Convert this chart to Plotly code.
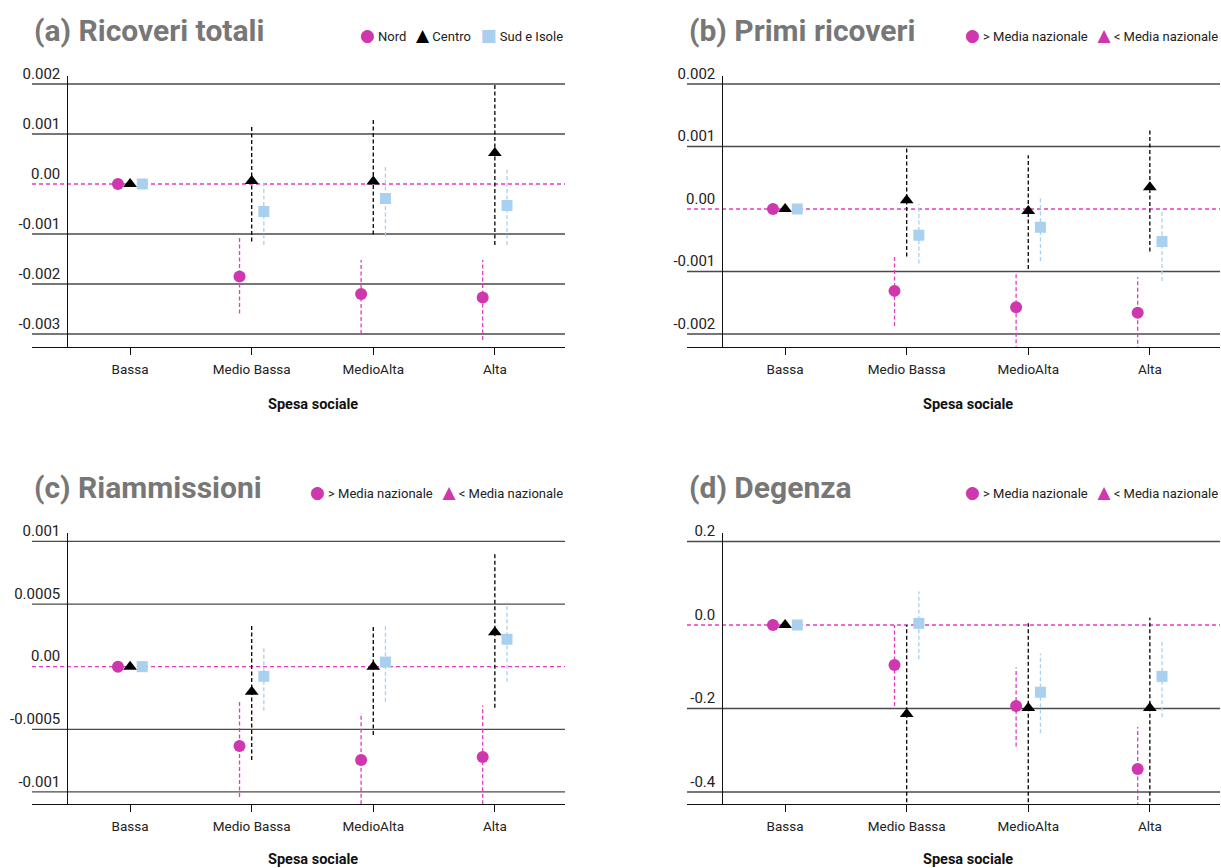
import plotly.graph_objects as go

categories = ["Bassa", "Medio Bassa", "MedioAlta", "Alta"]

# ---------------- (a) Ricoveri totali ----------------
a_nord = [0.0, -0.00185, -0.00220, -0.00227]
a_nord_lo = [None, -0.00259, -0.00300, -0.00312]
a_nord_hi = [None, -0.00107, -0.00152, -0.00152]
a_centro = [0.0, 0.00006, 0.00005, 0.00062]
a_centro_lo = [None, -0.00115, -0.00101, -0.00122]
a_centro_hi = [None, 0.00118, 0.00128, 0.00200]
a_sud = [0.0, -0.00055, -0.00029, -0.00043]
a_sud_lo = [None, -0.00122, -0.00104, -0.00122]
a_sud_hi = [None, 0.00005, 0.00039, 0.00033]
a_yticks = [0.002, 0.001, 0.0, -0.001, -0.002, -0.003]
a_ytext = ["0.002", "0.001", "0.00", "-0.001", "-0.002", "-0.003"]

# ---------------- (b) Primi ricoveri ----------------
b_nord = [0.0, -0.00131, -0.00157, -0.00166]
b_nord_lo = [None, -0.00187, -0.00225, -0.00226]
b_nord_hi = [None, -0.00076, -0.00102, -0.00109]
b_centro = [0.0, 0.00014, -0.00003, 0.00035]
b_centro_lo = [None, -0.00076, -0.00096, -0.00068]
b_centro_hi = [None, 0.00098, 0.00086, 0.00129]
b_sud = [0.0, -0.00042, -0.00029, -0.00052]
b_sud_lo = [None, -0.00087, -0.00083, -0.00115]
b_sud_hi = [None, 0.00008, 0.00017, 0.0]
b_yticks = [0.002, 0.001, 0.0, -0.001, -0.002]
b_ytext = ["0.002", "0.001", "0.00", "-0.001", "-0.002"]

# ---------------- (c) Riammissioni ----------------
c_nord = [0.0, -0.000633, -0.000745, -0.000721]
c_nord_lo = [None, -0.00104, -0.00115, -0.00115]
c_nord_hi = [None, -0.00028, -0.00037, -0.00031]
c_centro = [0.0, -0.00020, 0.0, 0.000275]
c_centro_lo = [None, -0.000745, -0.000545, -0.000327]
c_centro_hi = [None, 0.000341, 0.000333, 0.000905]
c_sud = [0.0, -0.000077, 0.000037, 0.000219]
c_sud_lo = [None, -0.000351, -0.000279, -0.00012]
c_sud_hi = [None, 0.00016, 0.000333, 0.000514]
c_yticks = [0.001, 0.0005, 0.0, -0.0005, -0.001]
c_ytext = ["0.001", "0.0005", "0.00", "-0.0005", "-0.001"]

# ---------------- (d) Degenza ----------------
d_nord = [0.0, -0.096, -0.194, -0.345]
d_nord_lo = [None, -0.194, -0.291, -0.45]
d_nord_hi = [None, 0.0, -0.102, -0.244]
d_centro = [0.0, -0.213, -0.199, -0.199]
d_centro_lo = [None, -0.44, -0.44, -0.44]
d_centro_hi = [None, 0.0, 0.004, 0.0175]
d_sud = [0.0, 0.004, -0.161, -0.123]
d_sud_lo = [None, -0.082, -0.259, -0.221]
d_sud_hi = [None, 0.080, -0.068, -0.036]
d_yticks = [0.2, 0.0, -0.2, -0.4]
d_ytext = ["0.2", "0.0", "-0.2", "-0.4"]

titles = ["(a) Ricoveri totali", "(b) Primi ricoveri", "(c) Riammissioni", "(d) Degenza"]
legend_a = ["Nord", "Centro", "Sud e Isole"]
legend_other = ["> Media nazionale", "< Media nazionale"]
x_title = "Spesa sociale"

# ---------------- styling ----------------
MAG = "#CE37AD"
MAG_LINE = "#E03CC4"
BLK = "#000000"
BLUE = "#A9D0EE"
GRID = "#4a4a4a"
AX = "#111111"
FONT = "Roboto"
W, H = 1221, 868

panels = [
    dict(nord=(a_nord, a_nord_lo, a_nord_hi), centro=(a_centro, a_centro_lo, a_centro_hi),
         sud=(a_sud, a_sud_lo, a_sud_hi), yt=a_yticks, ytx=a_ytext, yr=[-0.003254, 0.00216]),
    dict(nord=(b_nord, b_nord_lo, b_nord_hi), centro=(b_centro, b_centro_lo, b_centro_hi),
         sud=(b_sud, b_sud_lo, b_sud_hi), yt=b_yticks, ytx=b_ytext, yr=[-0.002203, 0.002128]),
    dict(nord=(c_nord, c_nord_lo, c_nord_hi), centro=(c_centro, c_centro_lo, c_centro_hi),
         sud=(c_sud, c_sud_lo, c_sud_hi), yt=c_yticks, ytx=c_ytext, yr=[-0.001096, 0.001067]),
    dict(nord=(d_nord, d_nord_lo, d_nord_hi), centro=(d_centro, d_centro_lo, d_centro_hi),
         sud=(d_sud, d_sud_lo, d_sud_hi), yt=d_yticks, ytx=d_ytext, yr=[-0.4287, 0.2204]),
]

# pixel geometry of the four panels
col_left = [32, 687]
col_right = [565, 1220]
yaxis_px = [67.4, 722.4]
row_top = [76, 533]
row_bottom = [346.7, 804]
xrange_ = [-0.807, 3.577]
dodge = 0.1


def ci_xy(xpos, lo, hi):
    xs, ys = [], []
    for x, l, h in zip(xpos, lo, hi):
        if l is None:
            continue
        xs += [x, x, None]
        ys += [l, h, None]
    return xs, ys


def glyph(ch, color, size):
    return ("<span style='font-family:DejaVu Sans;font-size:%dpx;color:%s'>%s</span>&nbsp;"
            % (size, color, ch))


fig = go.Figure()
layout = dict(
    width=W, height=H, margin=dict(l=0, r=0, t=0, b=0, autoexpand=False),
    paper_bgcolor="white", plot_bgcolor="rgba(0,0,0,0)",
    font=dict(family=FONT, color="#222"), showlegend=False,
    annotations=[], shapes=[],
)

idx = list(range(len(categories)))
for i, p in enumerate(panels):
    k = i + 1
    sfx = "" if k == 1 else str(k)
    xa, ya = "x" + sfx, "y" + sfx
    col, row = i % 2, i // 2

    series = [
        ("nord", -dodge, MAG, MAG_LINE, "circle", 12),
        ("centro", 0.0, BLK, BLK, "triangle-up", 12),
        ("sud", dodge, BLUE, BLUE, "square", 11),
    ]
    names = legend_a if k == 1 else [legend_other[0], legend_other[1], "Sud"]
    # CI dashed lines first (behind markers)
    for key, off, col_m, col_l, sym, sz in series:
        v, lo, hi = p[key]
        xpos = [j + off for j in idx]
        xs, ys = ci_xy(xpos, lo, hi)
        fig.add_trace(go.Scatter(x=xs, y=ys, mode="lines", xaxis=xa, yaxis=ya,
                                 line=dict(color=col_l, width=1.3, dash="4px,2.5px"),
                                 showlegend=False, hoverinfo="skip"))
    for s_i, (key, off, col_m, col_l, sym, sz) in enumerate(series):
        v, lo, hi = p[key]
        xpos = [j + off for j in idx]
        fig.add_trace(go.Scatter(x=xpos, y=v, mode="markers", xaxis=xa, yaxis=ya,
                                 marker=dict(color=col_m, symbol=sym, size=sz, line=dict(width=0)),
                                 name=names[s_i], showlegend=False))

    xdom = [col_left[col] / W, col_right[col] / W]
    ydom = [1 - row_bottom[row] / H, 1 - row_top[row] / H]
    layout["xaxis" + sfx] = dict(
        domain=xdom, range=xrange_, anchor=ya, tickmode="array", tickvals=idx, ticktext=categories,
        ticks="outside", ticklen=7, tickwidth=1.3, tickcolor=AX, showline=True, linecolor=AX,
        linewidth=1.3, showgrid=False, zeroline=False, automargin=False, fixedrange=True,
        tickfont=dict(family=FONT, size=13.5, color="#222"), ticklabelstandoff=3,
    )
    layout["yaxis" + sfx] = dict(
        domain=ydom, range=p["yr"], anchor="free", position=yaxis_px[col] / W,
        tickmode="array", tickvals=p["yt"], ticktext=p["ytx"], ticks="",
        showline=True, linecolor=AX, linewidth=1.3, showgrid=False, zeroline=False,
        ticklabelposition="outside top", automargin=False, fixedrange=True, ticklabelstandoff=4,
        tickfont=dict(family=FONT, size=15, color="#222"),
    )
    # grid lines at the tick values (zero is drawn dashed)
    for v in p["yt"]:
        if v == 0:
            layout["shapes"].append(dict(type="line", xref=xa + " domain", yref=ya, x0=0, x1=1, y0=v, y1=v,
                                         line=dict(color=MAG_LINE, width=1.3, dash="4px,3px"), layer="below"))
        else:
            layout["shapes"].append(dict(type="line", xref=xa + " domain", yref=ya, x0=0, x1=1, y0=v, y1=v,
                                         line=dict(color=GRID, width=1.3), layer="below"))
    # panel title
    title_y = [30, 487][row]
    layout["annotations"].append(dict(
        text=titles[i], xref="paper", yref="paper", x=col_left[col] / W, y=1 - title_y / H,
        xanchor="left", yanchor="middle", showarrow=False,
        font=dict(family=FONT, size=30, color="#777777", weight=700)))
    # x axis title
    xt_y = [404, 859][row]
    layout["annotations"].append(dict(
        text=x_title, xref="paper", yref="paper", x=(yaxis_px[col] + 246) / W, y=1 - xt_y / H,
        xanchor="center", yanchor="middle", showarrow=False,
        font=dict(family=FONT, size=14.5, color="#111", weight=700)))
    # legend (marker glyphs + labels)
    if k == 1:
        leg = (glyph("\u25CF", MAG, 17) + legend_a[0] + "&nbsp;&nbsp;&nbsp;"
               + glyph("\u25B2", BLK, 17) + legend_a[1] + "&nbsp;&nbsp;&nbsp;"
               + glyph("\u25A0", BLUE, 17) + legend_a[2])
    else:
        leg = (glyph("\u25CF", MAG, 17) + legend_other[0] + "&nbsp;&nbsp;&nbsp;"
               + glyph("\u25B2", MAG, 17) + legend_other[1])
    leg_y = [35, 492][row]
    layout["annotations"].append(dict(
        text=leg, xref="paper", yref="paper", x=col_right[col] / W, y=1 - leg_y / H,
        xanchor="right", yanchor="middle", showarrow=False,
        font=dict(family=FONT, size=13, color="#222")))

fig.update_layout(**layout)
fig.write_html("out.html", config={"displayModeBar": False},
               post_script="document.body.style.margin='0px';")
